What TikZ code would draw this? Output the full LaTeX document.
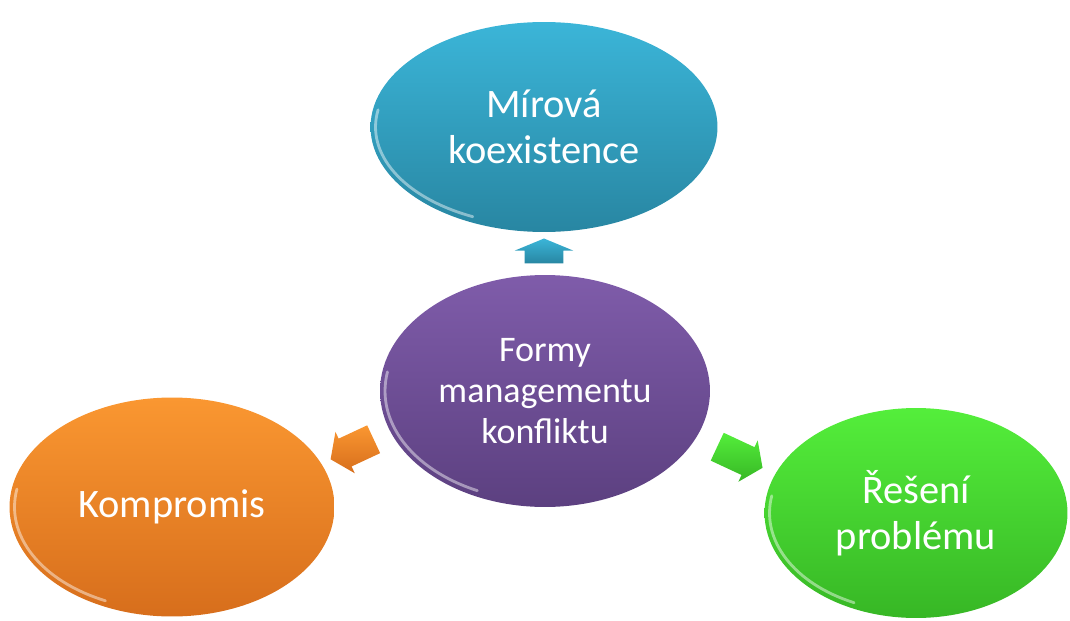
\documentclass[tikz,border=0pt]{standalone}
\usepackage{fontspec}
\setmainfont{Carlito}
\usetikzlibrary{shapes.geometric,shapes.arrows}
\definecolor{bluetop}{HTML}{3BB5D8}  \definecolor{bluebot}{HTML}{2886A2}
\definecolor{violtop}{HTML}{7F5CAA}  \definecolor{violbot}{HTML}{5C4080}
\definecolor{orantop}{HTML}{FA9731}  \definecolor{oranbot}{HTML}{D76E1C}
\definecolor{greetop}{HTML}{54EE3B}  \definecolor{greebot}{HTML}{37B725}
\tikzset{bubble/.style={ellipse,inner sep=0pt,text=white,align=center,
            font=\fontsize{23}{26}\selectfont},
	 hub/.style={bubble,font=\fontsize{20.5}{23.5}\selectfont},
	 gloss/.style={white,line width=1.6pt,opacity=0.45,line cap=round},
	 arr/.style={single arrow,inner xsep=0pt,inner ysep=0.3cm,single arrow tip angle=110,single arrow head extend=0.15cm}
	 }

\begin{document}
\begin{tikzpicture}[x=0.02cm,y=-0.02cm]
	\useasboundingbox (0,0) rectangle (1070,621);
	\node[hub,top color=violtop,bottom color=violbot,minimum width=6.6cm,minimum height=4.64cm] (forms) at (545,391) {Formy\\managementu\\konfliktu};
	\node[bubble,top color=bluetop,bottom color=bluebot,minimum width=6.94cm,minimum height=4.2cm] (mir) at (544,127) {Mírová\\koexistence};
	\node[bubble,top color=orantop,bottom color=oranbot,minimum width=6.5cm,minimum height=4.38cm] (komp) at (172,507) {Kompromis};
	\node[bubble,top color=greetop,bottom color=greebot,minimum width=6.06cm,minimum height=4.2cm] (res) at (916,513) {Řešení\\problému};
	% glossy rims along the lower left
	\draw[gloss] (forms.center) ++(170:3.2cm and 2.2cm) arc[start angle=170,end angle=245,x radius=3.2cm,y radius=2.2cm];
	\draw[gloss] (mir.center) ++(170:3.37cm and 1.98cm) arc[start angle=170,end angle=245,x radius=3.37cm,y radius=1.98cm];
	\draw[gloss] (komp.center) ++(170:3.15cm and 2.07cm) arc[start angle=170,end angle=245,x radius=3.15cm,y radius=2.07cm];
	\draw[gloss] (res.center) ++(170:2.93cm and 1.98cm) arc[start angle=170,end angle=245,x radius=2.93cm,y radius=1.98cm];
	% arrows from the hub
	\node[arr,top color=bluetop,bottom color=bluebot,rotate=90,minimum height=0.5cm,inner ysep=0.38cm,single arrow head extend=0.2cm,single arrow tip angle=135] (up) at (544,255) {};
	\node[arr,top color=orantop,bottom color=oranbot,rotate=205,minimum height=0.95cm] (left) at (357,447) {};
	\node[arr,top color=greetop,bottom color=greebot,rotate=-25,minimum height=1.0cm] (right) at (735,455) {};
\end{tikzpicture}
\end{document}
